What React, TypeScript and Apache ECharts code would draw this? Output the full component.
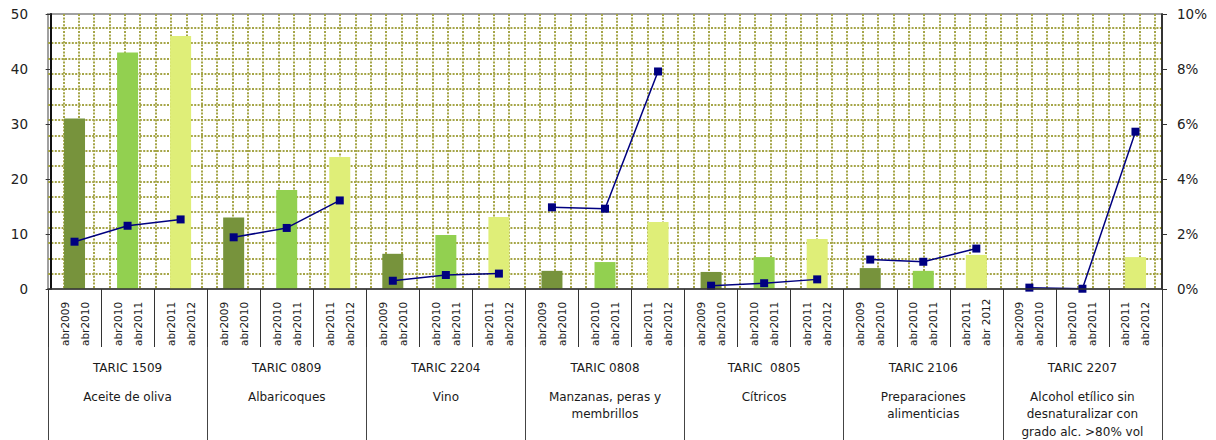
import React, { useEffect, useRef } from "react";
import * as echarts from "echarts";

// ---- data ----
const PERIOD_LABELS: string[] = [
  "abr2009\nabr2010", "abr2010\nabr2011", "abr2011\nabr2012",
  "abr2009\nabr2010", "abr2010\nabr2011", "abr2011\nabr2012",
  "abr2009\nabr2010", "abr2010\nabr2011", "abr2011\nabr2012",
  "abr2009\nabr2010", "abr2010\nabr2011", "abr2011\nabr2012",
  "abr2009\nabr2010", "abr2010\nabr2011", "abr2011\nabr2012",
  "abr2009\nabr2010", "abr2010\nabr2011", "abr2011\nabr 2012",
  "abr2009\nabr2010", "abr2010\nabr2011", "abr2011\nabr2012",
];

const GROUP_CODES: string[] = [
  "TARIC 1509", "TARIC 0809", "TARIC 2204", "TARIC 0808",
  "TARIC  0805", "TARIC 2106", "TARIC 2207",
];

const GROUP_NAMES: string[] = [
  "Aceite de oliva",
  "Albaricoques",
  "Vino",
  "Manzanas, peras y\nmembrillos",
  "Cítricos",
  "Preparaciones\nalimenticias",
  "Alcohol etílico sin\ndesnaturalizar con\ngrado alc. >80% vol",
];

// bar values (left axis)
const IMPORTS: number[] = [
  31, 43, 46,
  13, 18, 24,
  6.4, 9.8, 13.1,
  3.3, 4.9, 12.2,
  3.1, 5.8, 9.1,
  3.8, 3.3, 6.2,
  0.15, 0.05, 5.8,
];

// line values in % (right axis)
const SHARE_PCT: number[] = [
  1.72, 2.3, 2.53,
  1.88, 2.22, 3.22,
  0.3, 0.51, 0.56,
  2.97, 2.92, 7.91,
  0.12, 0.21, 0.35,
  1.07, 0.99, 1.47,
  0.05, 0.01, 5.72,
];

const LEFT_TICKS = { min: 0, max: 50, interval: 10 };
const RIGHT_TICKS = { min: 0, max: 10, interval: 2 };

const BAR_COLORS = ["#77933c", "#92d050", "#dfee78"];
const FONT = "DejaVu Sans";

export default function App() {
  const ref = useRef<HTMLDivElement>(null);

  useEffect(() => {
    if (!ref.current) return;
    const chart = echarts.init(ref.current, undefined, { renderer: "svg" });

    const gridLeft = 48;
    const gridRight = 54;
    const gridTop = 14;
    const gridBottom = 151;
    const plotW = 1216 - gridLeft - gridRight;
    const plotH = 440 - gridTop - gridBottom;
    const pat = 15.37;
    const patX0 = 12.7 - pat;
    const patY0 = 5 - pat;

    const lineA = SHARE_PCT.map((v, i) => (Math.floor(i / 3) % 2 === 0 ? v : null));
    const lineB = SHARE_PCT.map((v, i) => (Math.floor(i / 3) % 2 === 1 ? v : null));

    const lineSeries = (data: (number | null)[]) => ({
      type: "line",
      xAxisIndex: 0,
      yAxisIndex: 1,
      data,
      connectNulls: false,
      symbol: "rect",
      symbolSize: 8,
      lineStyle: { color: "#000080", width: 1.5 },
      itemStyle: { color: "#000080" },
      z: 5,
    });

    const patternLine = {
      show: true,
      showMinLine: false,
      showMaxLine: false,
      lineStyle: { color: "#a5a548", width: 2, type: [2, 1.4] },
    };

    const groupLabel = (code: string, idx: number) => {
      const name = GROUP_NAMES[idx]
        .split("\n")
        .map((l) => `{n|${l}}`)
        .join("\n");
      return `{t|${code}}\n{s| }\n${name}`;
    };

    chart.setOption({
      animation: false,
      backgroundColor: "#ffffff",
      textStyle: { fontFamily: FONT },
      grid: {
        left: gridLeft,
        right: gridRight,
        top: gridTop,
        bottom: gridBottom,
        show: true,
        backgroundColor: "#ffffff",
        borderColor: "#a0a0a0",
        borderWidth: 2,
      },
      xAxis: [
        {
          type: "category",
          data: PERIOD_LABELS,
          position: "bottom",
          axisLine: { show: true, lineStyle: { color: "#333", width: 1.5 } },
          axisTick: {
            show: true,
            length: 58,
            interval: 0,
            lineStyle: { color: "#333", width: 1 },
          },
          axisLabel: {
            interval: 0,
            rotate: 90,
            align: "left",
            margin: 57,
            fontFamily: FONT,
            fontSize: 10.5,
            lineHeight: 20,
            color: "#1a1a1a",
          },
          splitLine: { show: false },
          z: 6,
        },
        {
          type: "category",
          data: GROUP_CODES,
          position: "bottom",
          axisLine: { show: false },
          axisTick: {
            show: true,
            length: 151,
            interval: 0,
            lineStyle: { color: "#444", width: 1 },
          },
          axisLabel: {
            interval: 0,
            margin: 70,
            formatter: (v: string, i: number) => groupLabel(v, i),
            rich: {
              t: { fontFamily: FONT, fontSize: 12, lineHeight: 17, color: "#1a1a1a" },
              s: { fontSize: 6, lineHeight: 12 },
              n: { fontFamily: FONT, fontSize: 12, lineHeight: 17.5, color: "#1a1a1a" },
            },
          },
          splitLine: { show: false },
        },
        {
          type: "value",
          position: "top",
          min: patX0,
          max: patX0 + plotW,
          interval: pat,
          axisLine: { show: false },
          axisTick: { show: false },
          axisLabel: { show: false },
          splitLine: patternLine,
        },
      ],
      yAxis: [
        {
          type: "value",
          ...LEFT_TICKS,
          position: "left",
          axisLine: { show: true, lineStyle: { color: "#111", width: 2 } },
          axisTick: { show: true, length: 5, lineStyle: { color: "#333" } },
          axisLabel: { margin: 20, fontFamily: FONT, fontSize: 13.5, color: "#222" },
          splitLine: { show: false },
          z: 6,
        },
        {
          type: "value",
          ...RIGHT_TICKS,
          position: "right",
          axisLine: { show: true, lineStyle: { color: "#111", width: 1.5 } },
          axisTick: { show: true, length: 5, lineStyle: { color: "#333" } },
          axisLabel: {
            margin: 15,
            fontFamily: FONT,
            fontSize: 13.5,
            color: "#222",
            formatter: "{value}%",
          },
          splitLine: { show: false },
          z: 6,
        },
        {
          type: "value",
          position: "left",
          min: patY0,
          max: patY0 + plotH,
          interval: pat,
          axisLine: { show: false },
          axisTick: { show: false },
          axisLabel: { show: false },
          splitLine: patternLine,
        },
      ],
      series: [
        {
          type: "bar",
          xAxisIndex: 0,
          yAxisIndex: 0,
          barWidth: 21,
          data: IMPORTS.map((v, i) => ({
            value: v,
            itemStyle: { color: BAR_COLORS[i % 3] },
          })),
          z: 3,
        },
        lineSeries(lineA),
        lineSeries(lineB),
      ],
    });

    return () => chart.dispose();
  }, []);

  return <div ref={ref} style={{ width: 1216, height: 440, position: "absolute", left: 0, top: 0 }} />;
}
